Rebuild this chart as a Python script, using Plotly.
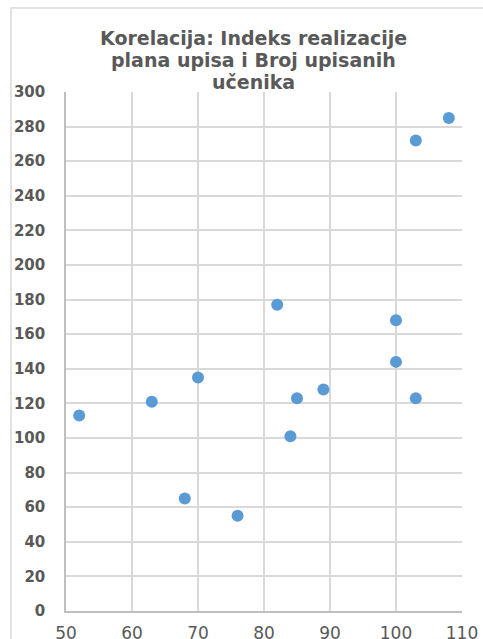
import plotly.graph_objects as go

indeks = [52, 63, 68, 70, 76, 82, 84, 85, 89, 100, 100, 103, 103, 108]
broj = [113, 121, 65, 135, 55, 177, 101, 123, 128, 168, 144, 272, 123, 285]
title_lines = ["Korelacija: Indeks realizacije", "plana upisa i Broj upisanih", "učenika"]

W, H = 483, 639
L, R, T, B = 66, 21, 92, 28
pw = W - L - R
ph = H - T - B

fig = go.Figure()
fig.add_trace(go.Scatter(
    x=indeks, y=broj, mode="markers",
    marker=dict(size=12, color="#5B9BD5", line=dict(width=0)),
    hoverinfo="x+y", showlegend=False,
))

fig.add_shape(type="rect", xref="paper", yref="paper",
              x0=(11 - L) / pw, x1=(W + 20 - L) / pw,
              y0=-(B + 20) / ph, y1=(H - B - 8) / ph,
              line=dict(color="#d9d9d9", width=1.5), fillcolor="rgba(0,0,0,0)", layer="below")

# title lines, centre pixel rows of each line
title_rows = [38, 60, 82]
for line, row in zip(title_lines, title_rows):
    fig.add_annotation(
        text=line, xref="paper", yref="paper",
        x=(253 - L) / pw, y=(H - B - row) / ph,
        xanchor="center", yanchor="middle", showarrow=False,
        font=dict(family="DejaVu Sans", size=19, color="#595959", weight="bold"),
    )

fig.update_layout(
    width=W, height=H,
    margin=dict(l=L, r=R, t=T, b=B, autoexpand=False),
    paper_bgcolor="white", plot_bgcolor="white",
    xaxis=dict(
        range=[50, 110], dtick=10, tick0=50, automargin=False,
        showgrid=True, gridcolor="#d9d9d9", gridwidth=1.5,
        zeroline=False, showline=True, linecolor="#bfbfbf", linewidth=1.5,
        mirror=False, ticks="", ticklabelstandoff=6,
        tickfont=dict(family="DejaVu Sans", size=17, color="#595959"),
        fixedrange=True,
    ),
    yaxis=dict(
        range=[0, 300], dtick=20, tick0=0, automargin=False,
        showgrid=True, gridcolor="#d9d9d9", gridwidth=1.5,
        zeroline=False, showline=True, linecolor="#bfbfbf", linewidth=1.5,
        ticks="", ticklabelstandoff=16,
        tickfont=dict(family="DejaVu Sans", size=15, color="#595959", weight="bold"),
        fixedrange=True,
    ),
)

fig.write_html("out.html", config={"displayModeBar": False},
               post_script="document.body.style.margin='0';")
